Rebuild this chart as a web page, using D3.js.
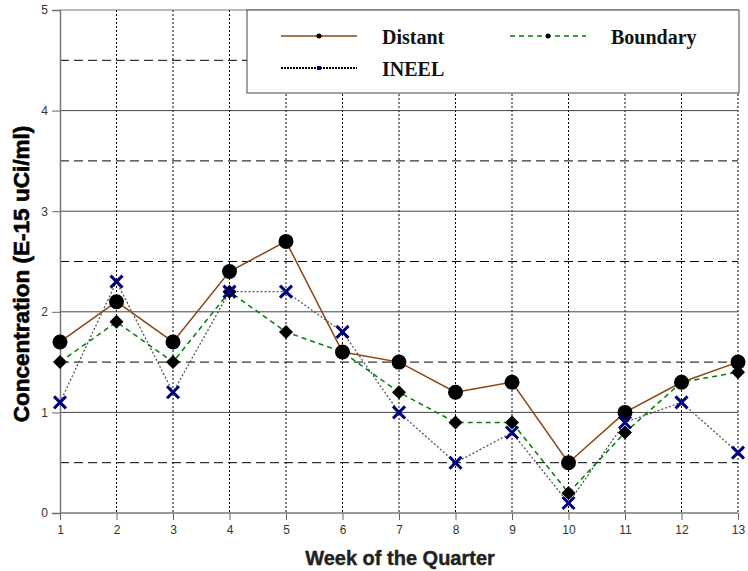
<!DOCTYPE html>
<html>
<head>
<meta charset="utf-8">
<script src="https://cdn.jsdelivr.net/npm/d3@7"></script>
<style>
  body { margin: 0; background: #fff; }
  svg { display: block; }
  .tick text { font-family: Arial, "Liberation Sans", sans-serif; font-size: 12px; fill: #333; }
</style>
</head>
<body>
<div id="chart"></div>
<script>
var weeks    = [1, 2, 3, 4, 5, 6, 7, 8, 9, 10, 11, 12, 13];
var distant  = [1.7, 2.1, 1.7, 2.4, 2.7, 1.6, 1.5, 1.2, 1.3, 0.5, 1.0, 1.3, 1.5];
var boundary = [1.5, 1.9, 1.5, 2.2, 1.8, 1.6, 1.2, 0.9, 0.9, 0.2, 0.8, 1.3, 1.4];
var ineel    = [1.1, 2.3, 1.2, 2.2, 2.2, 1.8, 1.0, 0.5, 0.8, 0.1, 0.9, 1.1, 0.6];
var yTicks   = [0, 1, 2, 3, 4, 5];
var yHalves  = [0.5, 1.5, 2.5, 3.5, 4.5];

var fullWidth = 748, fullHeight = 571;
var margin = {top: 10, right: 10, bottom: 58, left: 60},
    width  = fullWidth - margin.left - margin.right,
    height = fullHeight - margin.top - margin.bottom;

var svg = d3.select("#chart").append("svg")
    .attr("width", fullWidth)
    .attr("height", fullHeight)
  .append("g")
    .attr("transform", "translate(" + margin.left + "," + margin.top + ")");

var x = d3.scaleLinear().domain([1, 13]).range([0, width]);
var y = d3.scaleLinear().domain([0, 5]).range([height, 0]);

// grid: half-unit dashed, integer solid, weeks dotted
svg.selectAll(".half").data(yHalves).enter().append("line")
    .attr("x1", 0).attr("x2", width)
    .attr("y1", function(d) { return y(d); }).attr("y2", function(d) { return y(d); })
    .attr("stroke", "#000").attr("stroke-width", 1).attr("stroke-dasharray", "9,5");

svg.selectAll(".vgrid").data(weeks.slice(1)).enter().append("line")
    .attr("x1", function(d) { return x(d); }).attr("x2", function(d) { return x(d); })
    .attr("y1", 0).attr("y2", height)
    .attr("stroke", "#000").attr("stroke-width", 1).attr("stroke-dasharray", "2,2");

svg.selectAll(".whole").data(yTicks).enter().append("line")
    .attr("x1", 0).attr("x2", width)
    .attr("y1", function(d) { return y(d); }).attr("y2", function(d) { return y(d); })
    .attr("stroke", function(d) { return d === 0 || d === 5 ? "#777" : "#444"; })
    .attr("stroke-width", function(d) { return d === 0 ? 1.5 : 1; });

// axes
var xAxis = svg.append("g")
    .attr("transform", "translate(0," + height + ")")
    .call(d3.axisBottom(x).tickValues(weeks).tickFormat(d3.format("d")).tickSize(7).tickPadding(5));
var yAxis = svg.append("g")
    .call(d3.axisLeft(y).tickValues(yTicks).tickFormat(d3.format("d")).tickSize(8).tickPadding(4));
xAxis.select(".domain").remove();
yAxis.select(".domain").attr("stroke", "#777").attr("stroke-width", 1.5);
yAxis.selectAll(".tick line").attr("stroke", "#666");
xAxis.selectAll(".tick line").attr("stroke", "#666");

// legend box
var lg = svg.append("g").attr("transform", "translate(" + (247 - margin.left) + ",0)");
lg.append("rect").attr("width", 492).attr("height", 83)
    .attr("fill", "#fff").attr("stroke", "#444").attr("stroke-width", 1);

var series = [
  {name: "Distant", values: distant, color: "#8b4513", dash: null, width: 1.5, marker: "circle"},
  {name: "Boundary", values: boundary, color: "#008000", dash: "5,4", width: 1.5, marker: "diamond"},
  {name: "INEEL", values: ineel, color: "#555", dash: "2,2", width: 1.3, marker: "cross"}
];

var line = d3.line()
    .x(function(d, i) { return x(weeks[i]); })
    .y(function(d) { return y(d); });

// draw lines (INEEL first, then boundary, then distant)
[2, 1, 0].forEach(function(k) {
  var s = series[k];
  svg.append("path").datum(s.values)
      .attr("fill", "none")
      .attr("stroke", s.color)
      .attr("stroke-width", s.width)
      .attr("stroke-dasharray", s.dash)
      .attr("d", line);
});

function marker(g, type, cx, cy, r) {
  if (type === "circle") {
    g.append("circle").attr("cx", cx).attr("cy", cy).attr("r", r).attr("fill", "#000");
  } else if (type === "diamond") {
    g.append("path").attr("d", "M" + cx + "," + (cy - r) + "L" + (cx + r) + "," + cy +
        "L" + cx + "," + (cy + r) + "L" + (cx - r) + "," + cy + "Z").attr("fill", "#000");
  } else {
    g.append("path").attr("d", "M" + (cx - r) + "," + (cy - r) + "L" + (cx + r) + "," + (cy + r) +
        "M" + (cx - r) + "," + (cy + r) + "L" + (cx + r) + "," + (cy - r))
        .attr("stroke", "#000080").attr("stroke-width", 3).attr("fill", "none");
  }
}

var marks = svg.append("g");
distant.forEach(function(d, i) { marker(marks, "circle", x(weeks[i]), y(d), 7.5); });
boundary.forEach(function(d, i) { marker(marks, "diamond", x(weeks[i]), y(d), 7); });
ineel.forEach(function(d, i) { marker(marks, "cross", x(weeks[i]), y(d), 6); });

// legend entries
var legendPos = [
  {s: series[0], lx: 281, ly: 36, tx: 382},
  {s: series[1], lx: 510, ly: 36, tx: 611},
  {s: series[2], lx: 281, ly: 68, tx: 382}
];
legendPos.forEach(function(p) {
  var gx = p.lx - margin.left, gy = p.ly - margin.top;
  svg.append("line")
      .attr("x1", gx).attr("x2", gx + 76).attr("y1", gy).attr("y2", gy)
      .attr("stroke", p.s.name === "INEEL" ? "#000" : p.s.color)
      .attr("stroke-width", p.s.name === "INEEL" ? 2 : 1.5)
      .attr("stroke-dasharray", p.s.name === "INEEL" ? "2,1" : p.s.dash);
  if (p.s.name === "INEEL") {
    svg.append("rect").attr("x", gx + 36).attr("y", gy - 2).attr("width", 4).attr("height", 4).attr("fill", "#000080");
  } else {
    svg.append("circle").attr("cx", gx + 38).attr("cy", gy).attr("r", 2.5).attr("fill", "#000");
  }
  svg.append("text")
      .attr("x", p.tx - margin.left).attr("y", gy + 8)
      .attr("font-family", "'Liberation Serif', 'Times New Roman', serif")
      .attr("font-weight", "bold").attr("font-size", 20)
      .attr("fill", "#111")
      .text(p.s.name);
});

// axis titles
svg.append("text")
    .attr("x", width / 2 + 1).attr("y", height + 52)
    .attr("text-anchor", "middle")
    .attr("font-family", "Arial, 'Liberation Sans', sans-serif")
    .attr("font-weight", "bold").attr("font-size", 20)
    .attr("fill", "#222").attr("stroke", "#222").attr("stroke-width", 0.4)
    .text("Week of the Quarter");

svg.append("text")
    .attr("transform", "translate(" + (-31) + "," + (274 - margin.top) + ") rotate(-90)")
    .attr("text-anchor", "middle")
    .attr("font-family", "Arial, 'Liberation Sans', sans-serif")
    .attr("font-weight", "bold").attr("font-size", 22.5)
    .attr("fill", "#000").attr("stroke", "#000").attr("stroke-width", 0.6)
    .text("Concentration (E-15 uCi/ml)");
</script>
</body>
</html>
